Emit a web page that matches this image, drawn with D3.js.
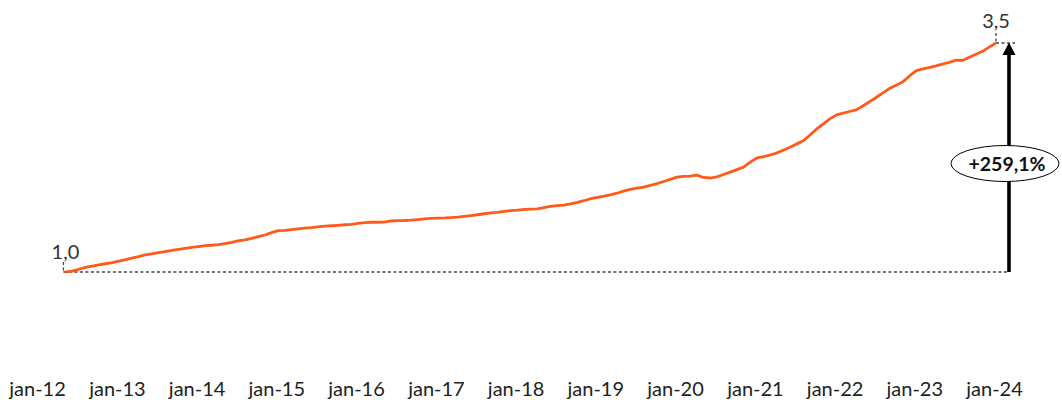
<!DOCTYPE html>
<meta charset="utf-8">
<style type="text/css">
body { margin: 0; background: #fff; }
.line { fill: none; stroke: #ff5a1a; stroke-width: 2.8; stroke-linejoin: round; }
.guide { fill: none; stroke: #444; stroke-width: 1.3; stroke-dasharray: 3,2.5; }
.lbl { font-family: Lato, sans-serif; font-size: 20px; fill: #333; }
.axis text { font-family: Lato, sans-serif; font-size: 20px; fill: #222; }
.growth { font-family: Lato, sans-serif; font-size: 19.5px; font-weight: bold; fill: #111; }
</style>
<body>
<script src="https://d3js.org/d3.v7.min.js"></script>
<script>
// index (first month = 1,0), monthly from may-12 to jan-24
var startMonth = "2012-05";
var values = [
  1.000, 1.010, 1.030, 1.051, 1.065, 1.078, 1.090, 1.102,                          // 2012 mai-dec
  1.118, 1.135, 1.152, 1.169, 1.186, 1.198, 1.211, 1.223, 1.236, 1.248, 1.258, 1.268, // 2013
  1.278, 1.287, 1.292, 1.298, 1.311, 1.324, 1.340, 1.352, 1.368, 1.385, 1.404, 1.430, // 2014
  1.451, 1.455, 1.462, 1.470, 1.478, 1.484, 1.492, 1.500, 1.505, 1.510, 1.516, 1.521, // 2015
  1.530, 1.540, 1.543, 1.543, 1.545, 1.557, 1.560, 1.562, 1.566, 1.572, 1.579, 1.586, // 2016
  1.588, 1.590, 1.594, 1.600, 1.608, 1.615, 1.625, 1.636, 1.645, 1.652, 1.662, 1.670, // 2017
  1.676, 1.684, 1.687, 1.689, 1.702, 1.716, 1.724, 1.731, 1.745, 1.760, 1.778, 1.800, // 2018
  1.815, 1.828, 1.841, 1.860, 1.882, 1.903, 1.915, 1.926, 1.945, 1.965, 1.988, 2.012, // 2019
  2.035, 2.043, 2.046, 2.058, 2.032, 2.026, 2.038, 2.064, 2.090, 2.117, 2.145, 2.200, // 2020
  2.245, 2.260, 2.277, 2.298, 2.330, 2.362, 2.396, 2.432, 2.495, 2.560, 2.618, 2.672, // 2021
  2.715, 2.735, 2.752, 2.770, 2.812, 2.859, 2.905, 2.955, 3.005, 3.040, 3.078, 3.140, // 2022
  3.198, 3.218, 3.232, 3.250, 3.270, 3.288, 3.312, 3.310, 3.345, 3.378, 3.410, 3.455, // 2023
  3.500                                                                               // jan-24
];
var tickLabels = ["jan-12", "jan-13", "jan-14", "jan-15", "jan-16", "jan-17", "jan-18",
                  "jan-19", "jan-20", "jan-21", "jan-22", "jan-23", "jan-24"];
var firstLabel = "1,0";
var lastLabel = "3,5";
var growthLabel = "+259,1%";

var width = 1062, height = 400;

var parseMonth = d3.timeParse("%Y-%m");
var t0 = parseMonth(startMonth);
var data = values.map(function(v, i) { return { date: d3.timeMonth.offset(t0, i), value: v }; });
var tickDates = tickLabels.map(function(s, i) { return new Date(2012 + i, 0, 1); });

var xScale = d3.scaleTime()
    .domain([new Date(2012, 0, 1), new Date(2024, 0, 1)])
    .range([37, 994]);

var yScale = d3.scaleLinear()
    .domain([1.0, 3.5])
    .range([272, 43]);

var svg = d3.select("body").append("svg")
    .attr("width", width)
    .attr("height", height);

var first = data[0], last = data[data.length - 1];
var x0 = xScale(first.date), y0 = yScale(first.value);
var x1 = xScale(last.date) + 2, y1 = yScale(last.value);
var arrowX = x1 + 13;

// dashed reference lines
svg.append("line").attr("class", "guide")
    .attr("x1", x0).attr("x2", arrowX).attr("y1", y0).attr("y2", y0);
svg.append("line").attr("class", "guide")
    .attr("x1", x0).attr("x2", x0).attr("y1", y0 - 10).attr("y2", y0);
svg.append("line").attr("class", "guide")
    .attr("x1", x1).attr("x2", x1).attr("y1", y1 - 10).attr("y2", y1);
svg.append("line").attr("class", "guide")
    .attr("x1", x1).attr("x2", arrowX + 6).attr("y1", y1).attr("y2", y1);

// x axis (labels only)
svg.append("g")
    .attr("class", "axis")
    .attr("transform", "translate(0,382)")
    .call(d3.axisBottom(xScale).tickValues(tickDates)
        .tickFormat(function(d, i) { return tickLabels[i]; })
        .tickSize(0))
    .call(function(g) { g.select(".domain").remove(); })
    .selectAll("text").attr("y", 0).attr("dy", "0.72em");

// the line
var line = d3.line()
    .x(function(d) { return xScale(d.date) + 2; })
    .y(function(d) { return yScale(d.value); });

svg.append("path")
    .datum(data)
    .attr("class", "line")
    .attr("d", line);

// start / end labels
svg.append("text").attr("class", "lbl")
    .attr("x", x0 + 2).attr("y", y0 - 13).attr("text-anchor", "middle").text(firstLabel);
svg.append("text").attr("class", "lbl")
    .attr("x", x1).attr("y", y1 - 15).attr("text-anchor", "middle").text(lastLabel);

// growth arrow
svg.append("line")
    .attr("x1", arrowX).attr("x2", arrowX)
    .attr("y1", y0).attr("y2", y1 + 10)
    .attr("stroke", "#000").attr("stroke-width", 3.6);
svg.append("path")
    .attr("d", "M" + arrowX + "," + (y1 - 0.5) + "L" + (arrowX - 6.5) + "," + (y1 + 12) + "L" + (arrowX + 6.5) + "," + (y1 + 12) + "Z")
    .attr("fill", "#000");

var midY = (y0 + y1) / 2 + 6;
svg.append("ellipse")
    .attr("cx", arrowX - 4).attr("cy", midY)
    .attr("rx", 54).attr("ry", 18)
    .attr("fill", "#fff").attr("stroke", "#000").attr("stroke-width", 1);
svg.append("text").attr("class", "growth")
    .attr("x", arrowX - 2).attr("y", midY + 7)
    .attr("text-anchor", "middle").text(growthLabel);
</script>
</body>
